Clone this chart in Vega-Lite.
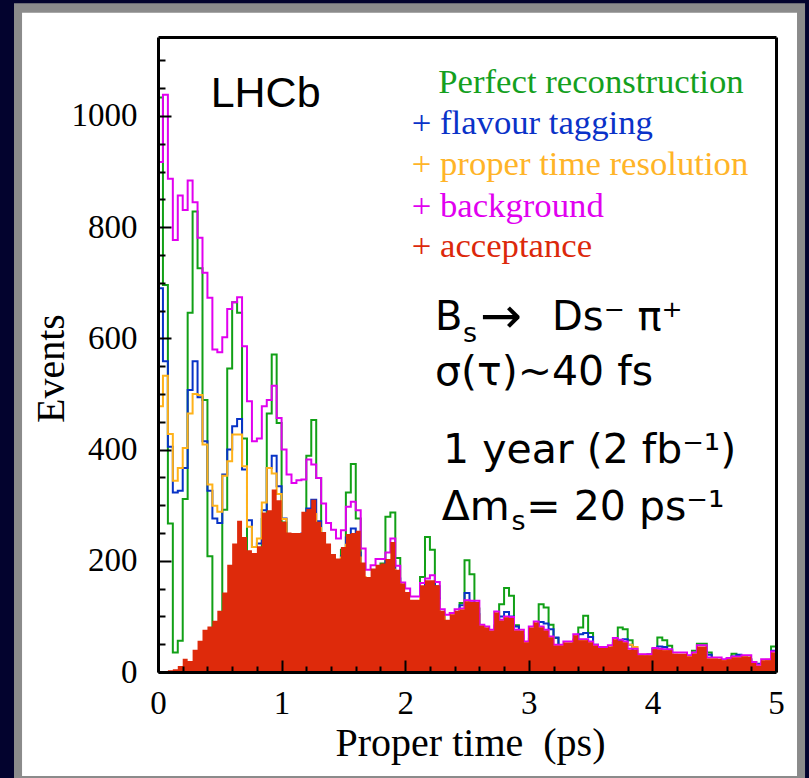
{
  "$schema": "https://vega.github.io/schema/vega-lite/v6.json",
  "width": 618,
  "height": 635,
  "autosize": {"type": "none"},
  "padding": {"left": 158, "top": 37, "right": 33, "bottom": 106},
  "background": "#03032e",
  "config": {"view": {"stroke": null, "fill": null}},
  "datasets": {
    "h": [
      {"t":0,"g":1033,"b":690,"o":478,"m":917,"r":0},
      {"t":0.04,"g":696,"b":559,"o":533,"m":1038,"r":0},
      {"t":0.08,"g":267,"b":405,"o":428,"m":887,"r":3},
      {"t":0.12,"g":35,"b":323,"o":344,"m":777,"r":5},
      {"t":0.16,"g":56,"b":326,"o":367,"m":857,"r":11},
      {"t":0.2,"g":311,"b":367,"o":403,"m":831,"r":24},
      {"t":0.24,"g":646,"b":507,"o":465,"m":884,"r":20},
      {"t":0.28,"g":828,"b":559,"o":500,"m":845,"r":40},
      {"t":0.32,"g":726,"b":494,"o":498,"m":781,"r":56},
      {"t":0.36,"g":489,"b":415,"o":409,"m":718,"r":76},
      {"t":0.4,"g":208,"b":326,"o":337,"m":673,"r":82},
      {"t":0.44,"g":40,"b":276,"o":299,"m":580,"r":92},
      {"t":0.48,"g":70,"b":268,"o":288,"m":575,"r":110},
      {"t":0.52,"g":292,"b":355,"o":353,"m":602,"r":143},
      {"t":0.56,"g":546,"b":400,"o":379,"m":653,"r":193},
      {"t":0.6,"g":665,"b":442,"o":427,"m":665,"r":231},
      {"t":0.64,"g":646,"b":455,"o":427,"m":674,"r":272},
      {"t":0.68,"g":420,"b":364,"o":370,"m":586,"r":243},
      {"t":0.72,"g":127,"b":273,"o":261,"m":487,"r":219},
      {"t":0.76,"g":10,"b":225,"o":225,"m":415,"r":214},
      {"t":0.8,"g":75,"b":231,"o":240,"m":420,"r":226},
      {"t":0.84,"g":275,"b":291,"o":305,"m":478,"r":287},
      {"t":0.88,"g":465,"b":367,"o":367,"m":489,"r":291},
      {"t":0.92,"g":571,"b":389,"o":357,"m":515,"r":328},
      {"t":0.96,"g":448,"b":334,"o":320,"m":457,"r":309},
      {"t":1,"g":269,"b":276,"o":275,"m":400,"r":270},
      {"t":1.04,"g":81,"b":210,"o":226,"m":355,"r":251},
      {"t":1.08,"g":7,"b":181,"o":203,"m":340,"r":250},
      {"t":1.12,"g":80,"b":200,"o":215,"m":345,"r":250},
      {"t":1.16,"g":246,"b":249,"o":248,"m":346,"r":288},
      {"t":1.2,"g":389,"b":294,"o":279,"m":382,"r":293},
      {"t":1.24,"g":453,"b":310,"o":284,"m":373,"r":310},
      {"t":1.28,"g":349,"b":271,"o":259,"m":349,"r":270},
      {"t":1.32,"g":193,"b":215,"o":217,"m":303,"r":252},
      {"t":1.36,"g":50,"b":165,"o":179,"m":268,"r":231},
      {"t":1.4,"g":7,"b":147,"o":164,"m":256,"r":212},
      {"t":1.44,"g":82,"b":167,"o":177,"m":240,"r":204},
      {"t":1.48,"g":220,"b":208,"o":206,"m":255,"r":225},
      {"t":1.52,"g":323,"b":242,"o":229,"m":297,"r":248},
      {"t":1.56,"g":374,"b":258,"o":230,"m":306,"r":250},
      {"t":1.6,"g":276,"b":215,"o":206,"m":291,"r":254},
      {"t":1.64,"g":137,"b":168,"o":171,"m":222,"r":197},
      {"t":1.68,"g":29,"b":129,"o":142,"m":184,"r":171},
      {"t":1.72,"g":9,"b":120,"o":134,"m":192,"r":186},
      {"t":1.76,"g":81,"b":140,"o":147,"m":203,"r":193},
      {"t":1.8,"g":195,"b":174,"o":170,"m":203,"r":195},
      {"t":1.84,"g":279,"b":199,"o":187,"m":215,"r":203},
      {"t":1.88,"g":287,"b":200,"o":184,"m":240,"r":234},
      {"t":1.92,"g":205,"b":168,"o":163,"m":191,"r":184},
      {"t":1.96,"g":95,"b":131,"o":135,"m":161,"r":159},
      {"t":2,"g":16,"b":102,"o":112,"m":150,"r":144},
      {"t":2.04,"g":12,"b":98,"o":109,"m":136,"r":130},
      {"t":2.08,"g":79,"b":118,"o":122,"m":136,"r":130},
      {"t":2.12,"g":171,"b":145,"o":141,"m":160,"r":156},
      {"t":2.16,"g":243,"b":161,"o":152,"m":168,"r":165},
      {"t":2.2,"g":220,"b":160,"o":148,"m":174,"r":165},
      {"t":2.24,"g":154,"b":132,"o":129,"m":162,"r":156},
      {"t":2.28,"g":65,"b":102,"o":106,"m":113,"r":110},
      {"t":2.32,"g":8,"b":81,"o":90,"m":103,"r":94},
      {"t":2.36,"g":14,"b":81,"o":89,"m":106,"r":104},
      {"t":2.4,"g":74,"b":98,"o":101,"m":113,"r":110},
      {"t":2.44,"g":124,"b":120,"o":113,"m":114,"r":112},
      {"t":2.48,"g":201,"b":142,"o":128,"m":129,"r":127},
      {"t":2.52,"g":176,"b":125,"o":118,"m":128,"r":126},
      {"t":2.56,"g":114,"b":104,"o":102,"m":128,"r":126},
      {"t":2.6,"g":43,"b":79,"o":83,"m":85,"r":83},
      {"t":2.64,"g":4,"b":65,"o":72,"m":82,"r":80},
      {"t":2.68,"g":17,"b":67,"o":73,"m":76,"r":74},
      {"t":2.72,"g":69,"b":82,"o":84,"m":109,"r":107},
      {"t":2.76,"g":122,"b":100,"o":93,"m":94,"r":92},
      {"t":2.8,"g":151,"b":108,"o":99,"m":100,"r":98},
      {"t":2.84,"g":137,"b":100,"o":95,"m":99,"r":97},
      {"t":2.88,"g":84,"b":82,"o":75,"m":76,"r":74},
      {"t":2.92,"g":29,"b":62,"o":66,"m":76,"r":74},
      {"t":2.96,"g":2,"b":52,"o":54,"m":55,"r":53},
      {"t":3,"g":18,"b":55,"o":60,"m":82,"r":80},
      {"t":3.04,"g":63,"b":69,"o":69,"m":91,"r":89},
      {"t":3.08,"g":122,"b":90,"o":79,"m":82,"r":80},
      {"t":3.12,"g":116,"b":87,"o":75,"m":76,"r":74},
      {"t":3.16,"g":85,"b":77,"o":63,"m":64,"r":62},
      {"t":3.2,"g":61,"b":62,"o":48,"m":49,"r":47},
      {"t":3.24,"g":18,"b":48,"o":48,"m":49,"r":47},
      {"t":3.28,"g":2,"b":42,"o":47,"m":55,"r":53},
      {"t":3.32,"g":19,"b":46,"o":49,"m":55,"r":53},
      {"t":3.36,"g":57,"b":58,"o":58,"m":68,"r":66},
      {"t":3.4,"g":80,"b":68,"o":58,"m":59,"r":57},
      {"t":3.44,"g":101,"b":70,"o":58,"m":59,"r":57},
      {"t":3.48,"g":70,"b":63,"o":54,"m":55,"r":53},
      {"t":3.52,"g":44,"b":49,"o":48,"m":49,"r":47},
      {"t":3.56,"g":11,"b":38,"o":41,"m":45,"r":43},
      {"t":3.6,"g":2,"b":34,"o":38,"m":45,"r":43},
      {"t":3.64,"g":19,"b":39,"o":41,"m":48,"r":46},
      {"t":3.68,"g":52,"b":48,"o":48,"m":61,"r":59},
      {"t":3.72,"g":80,"b":56,"o":53,"m":58,"r":56},
      {"t":3.76,"g":77,"b":59,"o":52,"m":55,"r":53},
      {"t":3.8,"g":57,"b":49,"o":49,"m":42,"r":40},
      {"t":3.84,"g":31,"b":38,"o":45,"m":42,"r":40},
      {"t":3.88,"g":6,"b":30,"o":31,"m":32,"r":30},
      {"t":3.92,"g":2,"b":28,"o":31,"m":32,"r":30},
      {"t":3.96,"g":19,"b":32,"o":31,"m":32,"r":30},
      {"t":4,"g":42,"b":40,"o":39,"m":43,"r":41},
      {"t":4.04,"g":62,"b":46,"o":41,"m":42,"r":40},
      {"t":4.08,"g":57,"b":45,"o":40,"m":41,"r":39},
      {"t":4.12,"g":47,"b":39,"o":37,"m":41,"r":39},
      {"t":4.16,"g":21,"b":30,"o":31,"m":35,"r":33},
      {"t":4.2,"g":3,"b":23,"o":26,"m":35,"r":33},
      {"t":4.24,"g":3,"b":23,"o":26,"m":35,"r":33},
      {"t":4.28,"g":18,"b":27,"o":28,"m":30,"r":28},
      {"t":4.32,"g":38,"b":34,"o":33,"m":35,"r":33},
      {"t":4.36,"g":51,"b":37,"o":35,"m":48,"r":46},
      {"t":4.4,"g":51,"b":36,"o":34,"m":48,"r":46},
      {"t":4.44,"g":35,"b":31,"o":25,"m":26,"r":24},
      {"t":4.48,"g":15,"b":23,"o":24,"m":26,"r":24},
      {"t":4.52,"g":2,"b":19,"o":21,"m":26,"r":24},
      {"t":4.56,"g":4,"b":19,"o":21,"m":23,"r":21},
      {"t":4.6,"g":18,"b":23,"o":24,"m":25,"r":23},
      {"t":4.64,"g":33,"b":28,"o":27,"m":28,"r":26},
      {"t":4.68,"g":29,"b":31,"o":27,"m":28,"r":26},
      {"t":4.72,"g":29,"b":29,"o":27,"m":30,"r":28},
      {"t":4.76,"g":22,"b":23,"o":23,"m":30,"r":28},
      {"t":4.8,"g":10,"b":18,"o":17,"m":18,"r":16},
      {"t":4.84,"g":1,"b":15,"o":12,"m":13,"r":11},
      {"t":4.88,"g":4,"b":16,"o":17,"m":23,"r":21},
      {"t":4.92,"g":16,"b":19,"o":22,"m":23,"r":21},
      {"t":4.96,"g":46,"b":38,"o":33,"m":37,"r":35},
      {"t":5,"g":46,"b":38,"o":33,"m":37,"r":35}
    ]
  },
  "layer": [
    {
      "data": {"values": [{}]},
      "mark": {"type": "rect", "color": "#8b8b8b"},
      "encoding": {
        "x": {"datum": -1.165, "type": "quantitative", "axis": null},
        "x2": {"datum": 5.235},
        "y": {"datum": 1202.7, "type": "quantitative", "axis": null},
        "y2": {"datum": -212}
      }
    },
    {
      "data": {"values": [{}]},
      "mark": {"type": "rect", "color": "#ffffff"},
      "encoding": {
        "x": {"datum": -1.1, "type": "quantitative", "axis": null},
        "x2": {"datum": 5.17},
        "y": {"datum": 1185.8, "type": "quantitative", "axis": null},
        "y2": {"datum": -187}
      }
    },
    {
      "data": {"name": "h"},
      "mark": {"type": "line", "interpolate": "step-after", "color": "#11a016", "strokeWidth": 2, "strokeJoin": "miter", "strokeCap": "butt"},
      "encoding": {
        "x": {"field": "t", "type": "quantitative", "scale": {"domain": [0, 5], "nice": false, "zero": false},
          "axis": {"orient": "bottom", "values": [0, 1, 2, 3, 4, 5], "format": "d", "ticks": false, "tickSize": 0, "labelPadding": 41, "labelBaseline": "alphabetic", "labelFont": "Liberation Serif", "labelFontSize": 33, "labelColor": "#000", "labelFlush": false, "labelOverlap": false, "domain": true, "domainColor": "#000", "domainWidth": 3, "grid": false,
            "title": "Proper time\u00a0 (ps)", "titleFont": "Liberation Serif", "titleFontSize": 40, "titleFontWeight": "normal", "titleColor": "#000", "titleX": 312, "titleY": 83, "titleBaseline": "alphabetic", "titleAlign": "center", "zindex": 1}},
        "y": {"field": "g", "type": "quantitative", "scale": {"domain": [0, 1142], "nice": false, "zero": true},
          "axis": {"orient": "left", "values": [0, 200, 400, 600, 800, 1000], "format": "d", "ticks": false, "tickSize": 0, "labelPadding": 21, "labelAlign": "right", "labelBaseline": "middle", "labelFont": "Liberation Serif", "labelFontSize": 33, "labelColor": "#000", "labelFlush": false, "labelOverlap": false, "domain": true, "domainColor": "#000", "domainWidth": 3, "grid": false,
            "title": "Events", "titleFont": "Liberation Serif", "titleFontSize": 40, "titleFontWeight": "normal", "titleColor": "#000", "titleAngle": 270, "titleX": -95, "titleY": 331, "titleBaseline": "alphabetic", "titleAlign": "center", "zindex": 1}}
      }
    },
    {
      "data": {"name": "h"},
      "mark": {"type": "line", "interpolate": "step-after", "color": "#0833c6", "strokeWidth": 2, "strokeJoin": "miter", "strokeCap": "butt"},
      "encoding": {
        "x": {"field": "t", "type": "quantitative",
          "axis": {"orient": "bottom", "values": [0, 1, 2, 3, 4, 5], "labels": false, "domain": false, "grid": false, "ticks": true, "tickSize": -12, "tickWidth": 2, "tickColor": "#000", "title": null, "zindex": 1}},
        "y": {"field": "b", "type": "quantitative",
          "axis": {"orient": "left", "values": [0, 200, 400, 600, 800, 1000], "labels": false, "domain": false, "grid": false, "ticks": true, "tickSize": -13, "tickWidth": 2, "tickColor": "#000", "title": null, "zindex": 1}}
      }
    },
    {
      "data": {"name": "h"},
      "mark": {"type": "line", "interpolate": "step-after", "color": "#ffb21a", "strokeWidth": 2, "strokeJoin": "miter", "strokeCap": "butt"},
      "encoding": {
        "x": {"field": "t", "type": "quantitative",
          "axis": {"orient": "bottom", "values": [0.2, 0.4, 0.6, 0.8, 1.2, 1.4, 1.6, 1.8, 2.2, 2.4, 2.6, 2.8, 3.2, 3.4, 3.6, 3.8, 4.2, 4.4, 4.6, 4.8], "labels": false, "domain": false, "grid": false, "ticks": true, "tickSize": -6, "tickWidth": 2, "tickColor": "#000", "title": null, "zindex": 1}},
        "y": {"field": "o", "type": "quantitative",
          "axis": {"orient": "left", "values": [50, 100, 150, 250, 300, 350, 450, 500, 550, 650, 700, 750, 850, 900, 950, 1050, 1100], "labels": false, "domain": false, "grid": false, "ticks": true, "tickSize": -7, "tickWidth": 2, "tickColor": "#000", "title": null, "zindex": 1}}
      }
    },
    {
      "data": {"name": "h"},
      "mark": {"type": "line", "interpolate": "step-after", "color": "#e100ef", "strokeWidth": 2, "strokeJoin": "miter", "strokeCap": "butt"},
      "encoding": {
        "x": {"field": "t", "type": "quantitative",
          "axis": {"orient": "top", "labels": false, "ticks": false, "domain": true, "domainColor": "#000", "domainWidth": 3, "grid": false, "title": null, "zindex": 1}},
        "y": {"field": "m", "type": "quantitative",
          "axis": {"orient": "right", "labels": false, "ticks": false, "domain": true, "domainColor": "#000", "domainWidth": 3, "grid": false, "title": null, "zindex": 1}}
      }
    },
    {
      "data": {"name": "h"},
      "mark": {"type": "area", "interpolate": "step-after", "color": "#de2a0b", "opacity": 1},
      "encoding": {
        "x": {"field": "t", "type": "quantitative", "axis": null},
        "y": {"field": "r", "type": "quantitative", "axis": null}
      }
    },
    {
      "data": {"values": [{}]},
      "mark": {"type": "text", "text": "LHCb", "font": "Liberation Sans", "fontSize": 43, "align": "left", "baseline": "alphabetic", "color": "#000"},
      "encoding": {"x": {"datum": 0.426, "type": "quantitative", "axis": null}, "y": {"datum": 1016.7, "type": "quantitative", "axis": null}}
    },
    {
      "data": {"values": [{}]},
      "mark": {"type": "text", "text": "Perfect reconstruction", "font": "Liberation Serif", "fontSize": 34.7, "align": "left", "baseline": "alphabetic", "color": "#14a01e"},
      "encoding": {"x": {"datum": 2.268, "type": "quantitative", "axis": null}, "y": {"datum": 1040.8, "type": "quantitative", "axis": null}}
    },
    {
      "data": {"values": [{}]},
      "mark": {"type": "text", "text": "+ flavour tagging", "font": "Liberation Serif", "fontSize": 34.7, "align": "left", "baseline": "alphabetic", "color": "#0a32c8"},
      "encoding": {"x": {"datum": 2.053, "type": "quantitative", "axis": null}, "y": {"datum": 967.6, "type": "quantitative", "axis": null}}
    },
    {
      "data": {"values": [{}]},
      "mark": {"type": "text", "text": "+ proper time resolution", "font": "Liberation Serif", "fontSize": 34.7, "align": "left", "baseline": "alphabetic", "color": "#ffb428"},
      "encoding": {"x": {"datum": 2.053, "type": "quantitative", "axis": null}, "y": {"datum": 893.9, "type": "quantitative", "axis": null}}
    },
    {
      "data": {"values": [{}]},
      "mark": {"type": "text", "text": "+ background", "font": "Liberation Serif", "fontSize": 34.7, "align": "left", "baseline": "alphabetic", "color": "#e100f0"},
      "encoding": {"x": {"datum": 2.053, "type": "quantitative", "axis": null}, "y": {"datum": 818.9, "type": "quantitative", "axis": null}}
    },
    {
      "data": {"values": [{}]},
      "mark": {"type": "text", "text": "+ acceptance", "font": "Liberation Serif", "fontSize": 34.7, "align": "left", "baseline": "alphabetic", "color": "#dc280a"},
      "encoding": {"x": {"datum": 2.053, "type": "quantitative", "axis": null}, "y": {"datum": 747, "type": "quantitative", "axis": null}}
    },
    {
      "data": {"values": [{}]},
      "mark": {"type": "text", "text": "B", "font": "DejaVu Sans", "fontSize": 40, "align": "left", "baseline": "alphabetic", "color": "#000"},
      "encoding": {"x": {"datum": 2.241, "type": "quantitative", "axis": null}, "y": {"datum": 615.1, "type": "quantitative", "axis": null}}
    },
    {
      "data": {"values": [{}]},
      "mark": {"type": "text", "text": "s", "font": "DejaVu Sans", "fontSize": 27, "align": "left", "baseline": "alphabetic", "color": "#000"},
      "encoding": {"x": {"datum": 2.468, "type": "quantitative", "axis": null}, "y": {"datum": 594.1, "type": "quantitative", "axis": null}}
    },
    {
      "data": {"values": [{}]},
      "mark": {"type": "text", "text": "→", "font": "DejaVu Sans", "fontSize": 50, "align": "left", "baseline": "alphabetic", "color": "#000"},
      "encoding": {"x": {"datum": 2.605, "type": "quantitative", "axis": null}, "y": {"datum": 610, "type": "quantitative", "axis": null}}
    },
    {
      "data": {"values": [{}]},
      "mark": {"type": "text", "text": "Ds⁻ π⁺", "font": "DejaVu Sans", "fontSize": 40, "align": "left", "baseline": "alphabetic", "color": "#000"},
      "encoding": {"x": {"datum": 3.188, "type": "quantitative", "axis": null}, "y": {"datum": 615.1, "type": "quantitative", "axis": null}}
    },
    {
      "data": {"values": [{}]},
      "mark": {"type": "text", "text": "σ(τ)~40 fs", "font": "DejaVu Sans", "fontSize": 41, "align": "left", "baseline": "alphabetic", "color": "#000"},
      "encoding": {"x": {"datum": 2.241, "type": "quantitative", "axis": null}, "y": {"datum": 516.2, "type": "quantitative", "axis": null}}
    },
    {
      "data": {"values": [{}]},
      "mark": {"type": "text", "text": "1 year (2 fb⁻¹)", "font": "DejaVu Sans", "fontSize": 41, "align": "left", "baseline": "alphabetic", "color": "#000"},
      "encoding": {"x": {"datum": 2.306, "type": "quantitative", "axis": null}, "y": {"datum": 375.4, "type": "quantitative", "axis": null}}
    },
    {
      "data": {"values": [{}]},
      "mark": {"type": "text", "text": "Δm", "font": "DejaVu Sans", "fontSize": 41, "align": "left", "baseline": "alphabetic", "color": "#000"},
      "encoding": {"x": {"datum": 2.295, "type": "quantitative", "axis": null}, "y": {"datum": 273.4, "type": "quantitative", "axis": null}}
    },
    {
      "data": {"values": [{}]},
      "mark": {"type": "text", "text": "s", "font": "DejaVu Sans", "fontSize": 27, "align": "left", "baseline": "alphabetic", "color": "#000"},
      "encoding": {"x": {"datum": 2.86, "type": "quantitative", "axis": null}, "y": {"datum": 255.4, "type": "quantitative", "axis": null}}
    },
    {
      "data": {"values": [{}]},
      "mark": {"type": "text", "text": "= 20 ps⁻¹", "font": "DejaVu Sans", "fontSize": 41, "align": "left", "baseline": "alphabetic", "color": "#000"},
      "encoding": {"x": {"datum": 2.98, "type": "quantitative", "axis": null}, "y": {"datum": 273.4, "type": "quantitative", "axis": null}}
    }
  ],
  "resolve": {"axis": {"x": "independent", "y": "independent"}}
}
